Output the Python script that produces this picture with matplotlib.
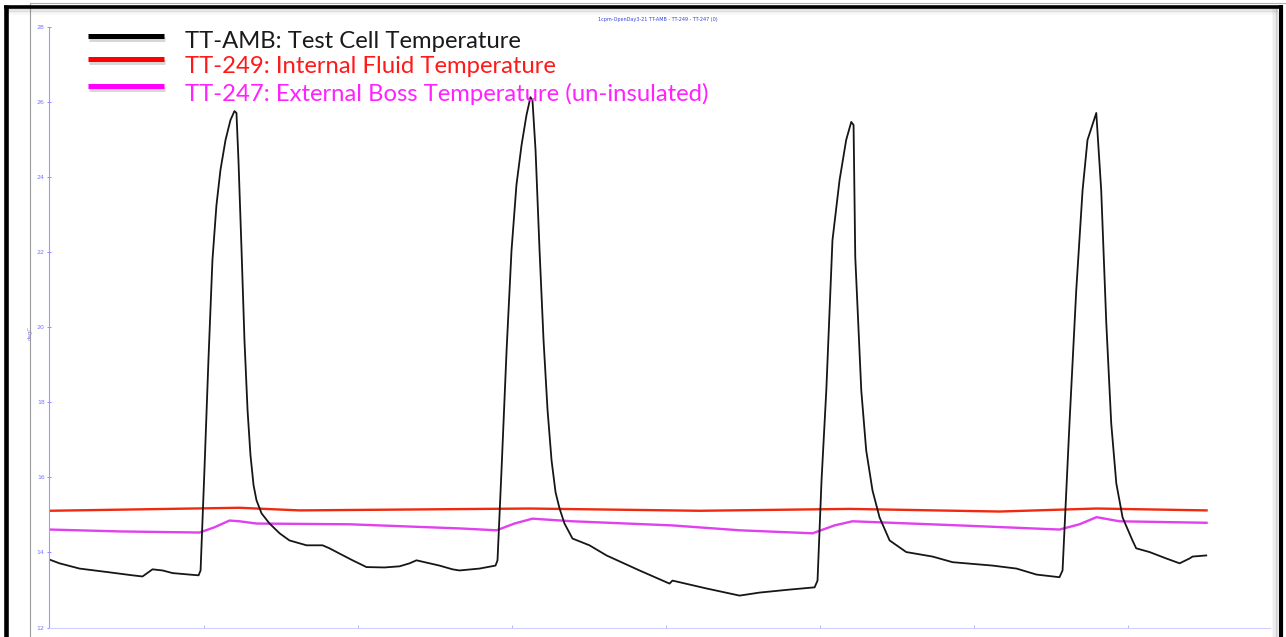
import matplotlib.pyplot as plt
from matplotlib.lines import Line2D

# time axis in hours (one tick per hour), temperatures in degC

# TT-AMB: test cell temperature
amb_t = [0.000, 0.065, 0.195, 0.370, 0.539, 0.604, 0.669, 0.734, 0.799, 0.909, 0.968,
         0.981, 1.006, 1.032, 1.058, 1.084, 1.110, 1.143, 1.175, 1.201,
         1.214, 1.227, 1.247, 1.266, 1.286, 1.305, 1.325, 1.344, 1.377, 1.429,
         1.494, 1.558, 1.669, 1.773, 1.818, 1.883, 1.968, 2.058, 2.175, 2.273,
         2.338, 2.383, 2.468, 2.532, 2.617, 2.662, 2.792, 2.896,
         2.909, 2.935, 2.968, 3.000, 3.032, 3.065, 3.097, 3.123,
         3.136, 3.156, 3.182, 3.208, 3.234, 3.260, 3.286, 3.312, 3.344, 3.396,
         3.506, 3.617, 3.831, 4.026, 4.045, 4.266, 4.481, 4.610, 4.805, 4.968,
         4.987, 5.013, 5.044, 5.084, 5.130, 5.173, 5.206,
         5.221, 5.232, 5.271, 5.303, 5.344, 5.390, 5.455, 5.563, 5.734, 5.864,
         6.123, 6.279, 6.409, 6.558,
         6.578, 6.623, 6.667, 6.708, 6.740, 6.797,
         6.829, 6.862, 6.894, 6.927, 6.968, 7.032, 7.056, 7.143, 7.251, 7.338,
         7.403, 7.422, 7.511]
amb_T = [13.81, 13.71, 13.57, 13.48, 13.39, 13.36, 13.55, 13.52, 13.45, 13.41, 13.39,
         13.52, 16.19, 19.12, 21.79, 23.25, 24.19, 24.99, 25.52, 25.76,
         25.71, 24.45, 22.05, 19.65, 17.79, 16.59, 15.79, 15.39, 15.04, 14.77,
         14.51, 14.32, 14.19, 14.19, 14.11, 13.97, 13.79, 13.61, 13.60, 13.63,
         13.71, 13.79, 13.71, 13.65, 13.55, 13.52, 13.57, 13.65,
         13.79, 16.19, 19.39, 22.05, 23.79, 24.85, 25.65, 26.13,
         26.05, 24.72, 22.05, 19.65, 17.79, 16.45, 15.60, 15.17, 14.77, 14.37,
         14.19, 13.92, 13.52, 13.17, 13.25, 13.04, 12.85, 12.93, 13.01, 13.07,
         13.25, 15.92, 18.32, 22.32, 23.92, 24.99, 25.47,
         25.39, 21.87, 18.32, 16.72, 15.65, 14.93, 14.32, 14.01, 13.89, 13.74,
         13.65, 13.57, 13.41, 13.34,
         13.52, 17.44, 20.99, 23.65, 24.99, 25.71,
         23.65, 20.11, 17.44, 15.84, 14.93, 14.32, 14.11, 14.01, 13.84, 13.71,
         13.84, 13.89, 13.92]

# TT-249: internal fluid temperature
fluid_t = [0.000, 1.234, 1.623, 3.117, 4.221, 5.195, 6.169, 6.799, 7.513]
fluid_T = [15.11, 15.19, 15.12, 15.17, 15.11, 15.16, 15.09, 15.17, 15.12]

# TT-247: external boss temperature
boss_t = [0.000, 0.455, 0.974, 1.071, 1.169, 1.234, 1.344, 1.948, 2.662, 2.903,
          3.019, 3.136, 3.396, 4.045, 4.481, 4.955, 5.097, 5.214, 5.909, 6.558,
          6.688, 6.799, 6.948, 7.513]
boss_T = [14.61, 14.56, 14.53, 14.67, 14.85, 14.83, 14.77, 14.75, 14.64, 14.59,
          14.77, 14.90, 14.83, 14.72, 14.59, 14.51, 14.72, 14.83, 14.72, 14.61,
          14.75, 14.94, 14.83, 14.79]

y_ticks = [12, 14, 16, 18, 20, 22, 24, 26, 28]
legend_labels = ["TT-AMB: Test Cell Temperature",
                 "TT-249: Internal Fluid Temperature",
                 "TT-247: External Boss Temperature (un-insulated)"]
legend_colors = ["#1a1a1a", "#ff1a1a", "#ff22ff"]

W, H = 1286, 637
fig = plt.figure(figsize=(W / 100, H / 100), dpi=100)


def fx(px):
    return px / W


def fy(py):
    return 1 - py / H


axis_blue = "#7777ff"
ax_w = fx(1270) - fx(49.5)
ax = fig.add_axes([fx(49.5), fy(627.5), ax_w, fy(27) - fy(627.5)])
ax.plot(fluid_t, fluid_T, color="#f02a10", lw=1.7)
ax.plot(boss_t, boss_T, color="#e040ee", lw=1.7)
ax.plot(amb_t, amb_T, color="#161616", lw=1.3)

ax.set_xlim(0, 7.925)
ax.set_ylim(12, 28)
ax.set_yticks(y_ticks)
ax.set_xticks(range(0, 8))
ax.set_xticklabels([])
for s in ["top", "right"]:
    ax.spines[s].set_visible(False)
ax.spines["left"].set_color("#9a9aff")
ax.spines["bottom"].set_color("#d0d0ff")
ax.tick_params(axis="y", direction="inout", length=3, width=0.6, color=axis_blue,
               labelsize=4.5, labelcolor=axis_blue, pad=2)
ax.tick_params(axis="x", direction="in", length=2.5, width=0.6, color="#aaaaff")
ax.set_ylabel("degC", fontsize=4, color=axis_blue)
ax.yaxis.set_label_coords((fx(33) - fx(49.5)) / ax_w, 0.49)
ax.patch.set_alpha(0)

fig.text(fx(658), fy(20), "1cpm-OpenDay3-21 TT-AMB - TT-249 - TT-247 (0)",
         fontsize=3.5, color="#3344dd", ha="center", va="center")

# legend drawn as in the slide: thick bars with a soft shadow
bar_y = [36, 59, 86]
text_base = [48, 73, 101]
bar_colors = ["#000000", "#ff0000", "#ff00ff"]
for by, tb, lab, bc, tc in zip(bar_y, text_base, legend_labels, bar_colors, legend_colors):
    fig.add_artist(Line2D([fx(89), fx(165)], [fy(by + 3), fy(by + 3)], color="#bbbbbb",
                          lw=3.5, alpha=0.6, solid_capstyle="butt"))
    fig.add_artist(Line2D([fx(88), fx(164)], [fy(by), fy(by)], color=bc, lw=3.6,
                          solid_capstyle="butt"))
    fig.text(fx(185), fy(tb), lab, fontsize=17.2, color=tc, family="Lato",
             ha="left", va="baseline")

# slide frame around the pasted chart
fig.add_artist(Line2D([fx(29.5), fx(29.5)], [fy(2.5), 0], color="#9a9a9a", lw=0.8))
fig.add_artist(Line2D([fx(29.5), 1], [fy(2.5), fy(2.5)], color="#b0b0b0", lw=0.8))
for i, a in enumerate([0.35, 0.25, 0.15, 0.08]):
    fig.add_artist(Line2D([fx(8), fx(1277)], [fy(9 + i * 1.5), fy(9 + i * 1.5)],
                          color="#888888", lw=1.1, alpha=a))
    fig.add_artist(Line2D([fx(1277 - i * 1.5), fx(1277 - i * 1.5)], [fy(9), 0],
                          color="#888888", lw=1.1, alpha=a))
fig.add_artist(Line2D([fx(3.5), fx(1283)], [fy(6.5), fy(6.5)], color="black", lw=2.6,
                      solid_capstyle="butt"))
fig.add_artist(Line2D([fx(5.7), fx(5.7)], [fy(5), 0], color="black", lw=3.3,
                      solid_capstyle="butt"))
fig.add_artist(Line2D([fx(1280.5), fx(1280.5)], [fy(5), 0], color="black", lw=3.0,
                      solid_capstyle="butt"))

fig.savefig("out.png", dpi=100, facecolor="white")
